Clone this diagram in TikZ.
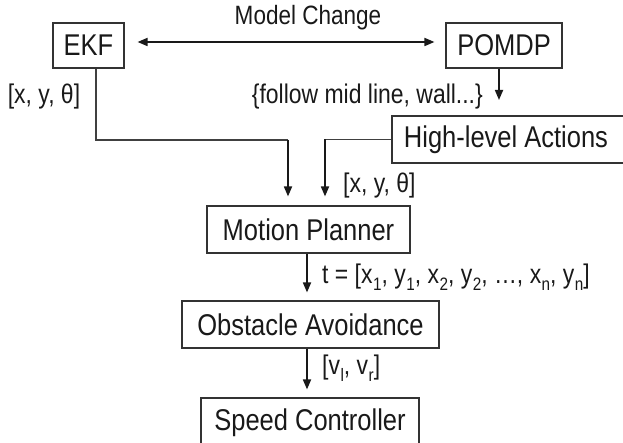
\documentclass[tikz,border=0pt]{standalone}
\usepackage{fontspec}
\setmainfont[FakeStretch=0.85]{Liberation Sans}
\usetikzlibrary{arrows.meta}
\newcommand{\lowsub}[1]{\kern0.5pt\raisebox{-0.28em}{\fontsize{18}{18}\selectfont #1}}

\begin{document}
\begin{tikzpicture}[x=1pt,y=-1pt,
  box/.style={draw=black!80, line width=1.1pt, inner sep=0pt, anchor=center,
              font=\fontsize{30}{30}\selectfont, text=black!90},
  lbl/.style={inner sep=0pt, font=\fontsize{27}{27}\selectfont, text=black!90},
  flow/.style={draw=black!90, line width=1.7pt, -{Triangle[length=10pt,width=8pt]}},
  link/.style={draw=black!75, line width=1.1pt},
  dflow/.style={draw=black!90, line width=1.7pt,
                {Triangle[length=10pt,width=8pt]}-{Triangle[length=10pt,width=8pt]}}]
  \useasboundingbox (0,0) rectangle (623,443);
  \clip (0,0) rectangle (623,443);

  % processing blocks
  \node[box, minimum width=71pt,  minimum height=45pt] (EKF)   at (88.5,45.5) {EKF};
  \node[box, minimum width=116pt, minimum height=45pt] (POMDP) at (504,45.5)  {POMDP};
  \node[box, minimum width=232pt, minimum height=47pt] (HLA)   at (508,139.5) {\hspace*{-4pt}High-level Actions};
  \node[box, minimum width=203pt, minimum height=47pt] (MP)    at (308.5,229.5) {Motion Planner};
  \node[box, minimum width=257pt, minimum height=47pt] (OA)    at (310.5,324.5) {Obstacle Avoidance};
  \node[box, minimum width=218pt, minimum height=50pt] (SC)    at (310,423) {Speed Controller};

  % model switching between estimator and planner
  \draw[dflow] ([xshift=13pt,yshift=3.5pt]EKF.east) -- ([xshift=-11pt,yshift=3.5pt]POMDP.west);
  \node[lbl, font=\fontsize{26.5}{26.5}\selectfont] (mc) at (308,18) {Model Change};

  % POMDP output
  \coordinate (pa) at (499,100);
  \draw[flow] ([xshift=-5pt]POMDP.south) -- (pa);
  \node[lbl, anchor=east] (fl) at (483,97) {\{follow mid line, wall...\}};

  % pose from the EKF
  \coordinate (j1) at (288,140);
  \draw[link] ([xshift=7.5pt]EKF.south) |- (j1);
  \draw[flow] (j1) -- ([yshift=9pt]j1 |- MP.north);
  \node[lbl] (pl) at (44,97) {[x, y, θ]};

  % pose from the high-level actions
  \coordinate (j2) at (325,139.5);
  \draw[link] (HLA.west) -- (j2);
  \draw[flow] (j2) -- ([yshift=9pt]j2 |- MP.north);
  \node[lbl, anchor=west] (pr) at (343,186) {[x, y, θ]};

  % trajectory and wheel speeds along the lower chain
  \coordinate (c0) at (307,253);
  \coordinate (c1) at (307,348);
  \draw[flow] (c0 |- MP.south) -- ([yshift=8pt]c0 |- OA.north);
  \node[lbl, anchor=west] (tl) at (322,277)
    {t = [x\lowsub{1}, y\lowsub{1}, x\lowsub{2}, y\lowsub{2}, …, x\lowsub{n}, y\lowsub{n}]};
  \draw[flow] (c1 |- OA.south) -- ([yshift=8pt]c1 |- SC.north);
  \node[lbl, anchor=west] (vl) at (322,368) {[v\lowsub{l}, v\lowsub{r}]};
\end{tikzpicture}
\end{document}
